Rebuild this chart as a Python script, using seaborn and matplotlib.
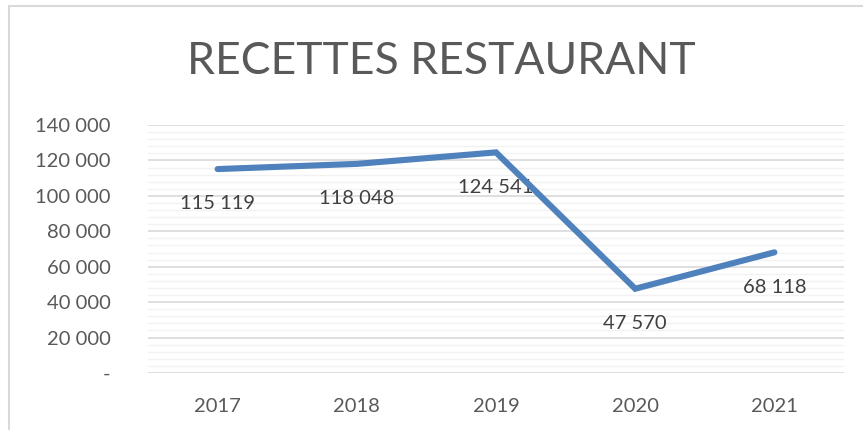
import pandas as pd
import seaborn as sns
import matplotlib.pyplot as plt
from matplotlib.ticker import FuncFormatter, MultipleLocator
from matplotlib.patches import Rectangle

annees = ["2017", "2018", "2019", "2020", "2021"]
recettes = [115119, 118048, 124541, 47570, 68118]
titre = "RECETTES RESTAURANT"

sns.set_style("white")
plt.rcParams["font.family"] = ["Lato", "DejaVu Sans"]

data = pd.DataFrame({"annee": annees, "recettes": recettes})
data["pos"] = range(len(annees))

fig = plt.figure(figsize=(8.63, 4.30), dpi=100)
ax = fig.add_axes([148 / 863, 1 - 373 / 430, (844 - 148) / 863, (373 - 125) / 430])

# Grille façon Excel (majeure + mineure)
ax.yaxis.set_major_locator(MultipleLocator(20000))
ax.yaxis.set_minor_locator(MultipleLocator(4000))
ax.grid(which="major", axis="y", color="#d9d9d9", linewidth=1.2, zorder=0)
ax.grid(which="minor", axis="y", color="#f2f2f2", linewidth=1.0, zorder=0)
ax.set_axisbelow(True)

sns.lineplot(data=data, x="pos", y="recettes", color="#4f81bd", linewidth=4.4,
             solid_capstyle="round", solid_joinstyle="miter", ax=ax, zorder=3)

for x, y in zip(data["pos"], data["recettes"]):
    label = f"{y:,}".replace(",", " ")
    ax.annotate(label, (x, y), xytext=(0, -25), textcoords="offset points",
                ha="center", va="center", fontsize=14.5, color="#404040", zorder=2)

ax.set_xlim(-0.5, len(annees) - 0.5)
ax.set_ylim(0, 140000)
ax.set_xticks(data["pos"])
ax.set_xticklabels(annees)
ax.yaxis.set_major_formatter(FuncFormatter(lambda v, p: "-" if v == 0 else f"{int(v):,}".replace(",", " ")))
ax.tick_params(axis="y", which="both", length=0, pad=27, labelsize=14.5, labelcolor="#595959")
ax.tick_params(axis="x", length=0, pad=18, labelsize=14.5, labelcolor="#595959")
ax.set_xlabel("")
ax.set_ylabel("")
for s in ax.spines.values():
    s.set_visible(False)

fig.text(441 / 863, 1 - 61 / 430, titre, ha="center", va="center", fontsize=32,
         color="#595959")

# cadre du graphique
fig.add_artist(Rectangle((8.5 / 863, -0.1), 1.2, 1.1 - 6.5 / 430, transform=fig.transFigure,
                         fill=False, edgecolor="#d9d9d9", linewidth=1.5))

plt.savefig("out.png", dpi=100)
